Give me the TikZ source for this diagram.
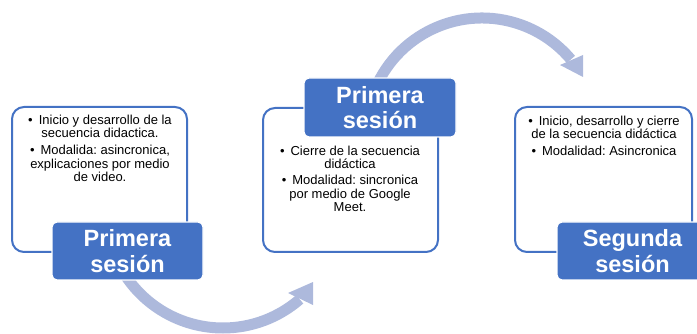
\documentclass[tikz,border=0pt]{standalone}
\usepackage{fontspec}
\setmainfont{Liberation Sans}
\frenchspacing
\definecolor{accent}{RGB}{68,114,196}
\definecolor{arrowc}{RGB}{173,185,220}
\newcommand{\bl}{\textbullet\hspace{6pt}}
\begin{document}
\begin{tikzpicture}[x=1pt,y=-1pt,
  panel/.style={draw=accent, line width=2pt, fill=white, rounded corners=12pt, inner sep=0pt},
  tag/.style={fill=accent, draw=white, line width=1.2pt, rounded corners=5pt, inner sep=0pt,
    text=white, font=\fontsize{23.5}{25.5}\selectfont\bfseries, align=center},
  itemtext/.style={font=\fontsize{13}{13.3}\selectfont\frenchspacing, align=center, inner sep=0pt, anchor=north},
  band/.style={draw=arrowc, line width=11pt},
  head/.style={fill=arrowc}]
\useasboundingbox (0,0) rectangle (697,334);
\clip (0,0) rectangle (697,334);
% curved arrows
\draw[band] ([shift={(482,134)}]200:116) arc[start angle=200, end angle=320, radius=116];
\fill[head] (583,55) -- (560,65) -- (583,77) -- cycle;
\draw[band] ([shift={(223,211)}]150:117) arc[start angle=150, end angle=49, radius=117];
\fill[head] (313,282) -- (288,293) -- (313,305) -- cycle;
% panels
\node[panel, minimum width=175pt, minimum height=145pt] (p1) at (99.5,179.5) {};
\node[panel, minimum width=175pt, minimum height=144pt] (p2) at (350.5,180) {};
\node[panel, minimum width=177pt, minimum height=145pt] (p3) at (603.5,179.5) {};
% texts
\node[itemtext] (t1) at (100,114.5) {\bl Inicio y desarrollo de la\\secuencia didactica.\\[4pt]\bl Modalida: asincronica,\\explicaciones por medio\\de video.};
\node[itemtext] (t2) at (350,145.5) {\bl Cierre de la secuencia\\didáctica\\[3pt]\bl Modalidad: sincronica\\por medio de Google\\Meet.};
\node[itemtext] (t3) at (604,115.5) {\bl Inicio, desarrollo y cierre\\de la secuencia didáctica\\[4pt]\bl Modalidad: Asincronica};
% tags
\node[tag, minimum width=151pt, minimum height=58pt] (l1) at (127.5,251) {Primera\\sesión};
\node[tag, minimum width=152pt, minimum height=59pt] (l2) at (380,107.5) {Primera\\sesión};
\node[tag, minimum width=151pt, minimum height=58pt] (l3) at (632.5,251) {Segunda\\sesión};
\end{tikzpicture}
\end{document}
